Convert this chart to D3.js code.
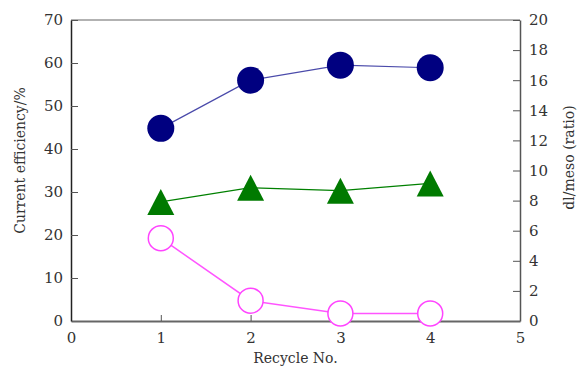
<!DOCTYPE html>
<html>
<head>
<meta charset="utf-8">
<script src="https://cdn.jsdelivr.net/npm/d3@7"></script>
<style>
  body { margin: 0; background: #fff; }
  text { font-family: "DejaVu Serif", serif; font-size: 14px; fill: #333; }
</style>
</head>
<body>
<div id="chart"></div>
<script>
var margin = {top: 20, right: 59, bottom: 49, left: 71},
    width = 579 - margin.left - margin.right,
    height = 370 - margin.top - margin.bottom;

// recycle number
var recycle = [1, 2, 3, 4];
// current efficiency (left axis)
var effBlue = [44.8, 56.0, 59.5, 58.9];
var effGreen = [27.7, 31.0, 30.3, 32.0];
// dl/meso ratio (right axis)
var ratio = [5.5, 1.35, 0.5, 0.5];

var xTicks = [0, 1, 2, 3, 4, 5];
var leftTicks = [0, 10, 20, 30, 40, 50, 60, 70];
var rightTicks = [0, 2, 4, 6, 8, 10, 12, 14, 16, 18, 20];

var svg = d3.select("#chart").append("svg")
    .attr("width", 579)
    .attr("height", 370)
  .append("g")
    .attr("transform", "translate(" + margin.left + "," + margin.top + ")");

var x = d3.scaleLinear().domain([0, 5]).range([0, width]);
var yL = d3.scaleLinear().domain([0, 70]).range([height, 0]);
var yR = d3.scaleLinear().domain([0, 20]).range([height, 0]);

// frame
svg.append("line").attr("x1", 0).attr("x2", width).attr("y1", 0).attr("y2", 0)
    .attr("stroke", "#999").attr("stroke-width", 1.5);

var xAxis = svg.append("g")
    .attr("transform", "translate(0," + height + ")")
    .call(d3.axisBottom(x).tickValues(xTicks).tickFormat(d3.format("d"))
        .tickSizeInner(-6).tickSizeOuter(0).tickPadding(11));
xAxis.select(".domain").attr("stroke", "#666").attr("stroke-width", 2);

var leftAxis = svg.append("g")
    .call(d3.axisLeft(yL).tickValues(leftTicks).tickSizeInner(-7).tickSizeOuter(0).tickPadding(8));
leftAxis.select(".domain").attr("stroke", "#222").attr("stroke-width", 1.5);

var rightAxis = svg.append("g")
    .attr("transform", "translate(" + width + ",0)")
    .call(d3.axisRight(yR).tickValues(rightTicks).tickSizeInner(-7).tickSizeOuter(0).tickPadding(9));
rightAxis.select(".domain").attr("stroke", "#555").attr("stroke-width", 1.5);

svg.selectAll(".tick line").attr("stroke", "#555");
svg.selectAll(".tick text").style("font-size", "15px").attr("fill", "#333");
// no tick marks at the corners
xAxis.selectAll(".tick line").filter(function(d){ return d == 0 || d == 5; }).remove();
leftAxis.selectAll(".tick line").filter(function(d){ return d == 0; }).remove();
rightAxis.selectAll(".tick line").filter(function(d){ return d == 0; }).remove();

// axis titles
svg.append("text")
    .attr("x", width / 2)
    .attr("y", height + 42)
    .attr("text-anchor", "middle")
    .text("Recycle No.");

svg.append("text")
    .attr("transform", "translate(" + (-46) + "," + (height / 2 - 10) + ") rotate(-90)")
    .attr("text-anchor", "middle")
    .text("Current efficiency/%");

svg.append("text")
    .attr("transform", "translate(" + (width + 54) + "," + (height / 2 - 13) + ") rotate(-90)")
    .attr("text-anchor", "middle")
    .text("dl/meso (ratio)");

// series
function drawLine(vals, yScale, color, sw) {
    var line = d3.line()
        .x(function(d, i){ return x(recycle[i]); })
        .y(function(d){ return yScale(d); });
    svg.append("path")
        .datum(vals)
        .attr("fill", "none")
        .attr("stroke", color)
        .attr("stroke-width", sw)
        .attr("d", line);
}

drawLine(ratio, yR, "#ff55ff", 1.5);
drawLine(effGreen, yL, "#008000", 1.2);
drawLine(effBlue, yL, "#4a4aaa", 1.2);

svg.selectAll(".pink")
    .data(ratio)
    .join("circle")
    .attr("class", "pink")
    .attr("cx", function(d, i){ return x(recycle[i]); })
    .attr("cy", function(d){ return yR(d); })
    .attr("r", 12.5)
    .attr("fill", "#fff")
    .attr("stroke", "#ff44ff")
    .attr("stroke-width", 1.5);

var tw = 27, th = 26;
svg.selectAll(".tri")
    .data(effGreen)
    .join("path")
    .attr("class", "tri")
    .attr("d", function(d, i){
        var cx = x(recycle[i]), cy = yL(d);
        return "M" + cx + "," + (cy - th / 2) +
               "L" + (cx + tw / 2) + "," + (cy + th / 2) +
               "L" + (cx - tw / 2) + "," + (cy + th / 2) + "Z";
    })
    .attr("fill", "#007a00");

svg.selectAll(".blue")
    .data(effBlue)
    .join("circle")
    .attr("class", "blue")
    .attr("cx", function(d, i){ return x(recycle[i]); })
    .attr("cy", function(d){ return yL(d); })
    .attr("r", 13.5)
    .attr("fill", "#000080");
</script>
</body>
</html>
